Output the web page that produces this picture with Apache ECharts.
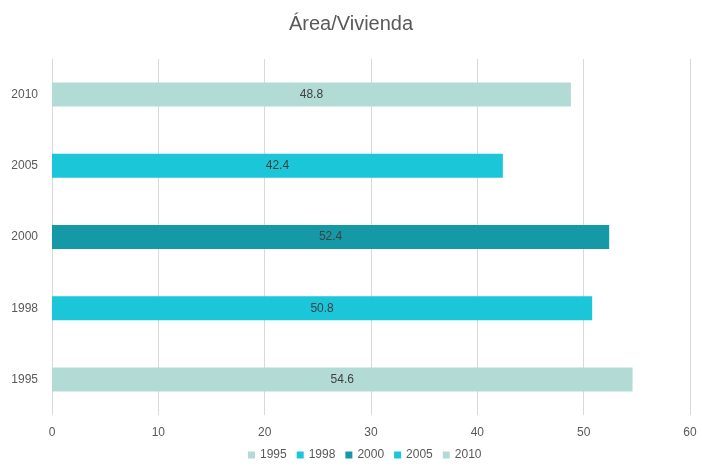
<!DOCTYPE html>
<html><head><meta charset="utf-8">
<script src="https://cdn.jsdelivr.net/npm/echarts@6/dist/echarts.min.js"></script>
<style>html,body{margin:0;padding:0;background:#fff}#c{width:702px;height:467px}</style>
</head><body><div id="c"></div>
<script>
const categories = ['1995','1998','2000','2005','2010'];
const values = [54.6, 50.8, 52.4, 42.4, 48.8];
const colors = ['#b3dbd6','#1bc6d8','#1599a7','#1bc6d8','#b3dbd6'];
const xTicks = {min:0, max:60, interval:10};

const series = categories.map((c,i)=>({
  name:c, type:'bar', stack:'s', barWidth:24,
  itemStyle:{color:colors[i]},
  label:{show:true, position:'inside', color:'#404040', fontSize:12, fontFamily:'Liberation Sans, Arial'},
  data: categories.map((_,j)=> j===i ? values[i] : '-')
}));

const chart = echarts.init(document.getElementById('c'));
chart.setOption({
  animation:false,
  title:{text:'Área/Vivienda', left:'center', top:9, textStyle:{fontSize:20, fontWeight:'normal', color:'#595959', fontFamily:'Liberation Sans, Arial'}},
  legend:{bottom:1, left:243, itemWidth:7, itemHeight:7, itemGap:10, icon:'rect', data:categories,
    textStyle:{color:'#595959', fontSize:12, fontFamily:'Liberation Sans, Arial'}},
  grid:{left:52, right:12, top:59, bottom:52},
  xAxis:{type:'value', min:xTicks.min, max:xTicks.max, interval:xTicks.interval,
    axisLine:{show:false}, axisTick:{show:false},
    splitLine:{lineStyle:{color:'#d9d9d9'}},
    axisLabel:{color:'#595959', fontSize:12, margin:12, fontFamily:'Liberation Sans, Arial'}},
  yAxis:{type:'category', data:categories,
    axisLine:{show:false}, axisTick:{show:false},
    axisLabel:{color:'#595959', fontSize:12, margin:14, fontFamily:'Liberation Sans, Arial'}},
  series
});
</script></body></html>
